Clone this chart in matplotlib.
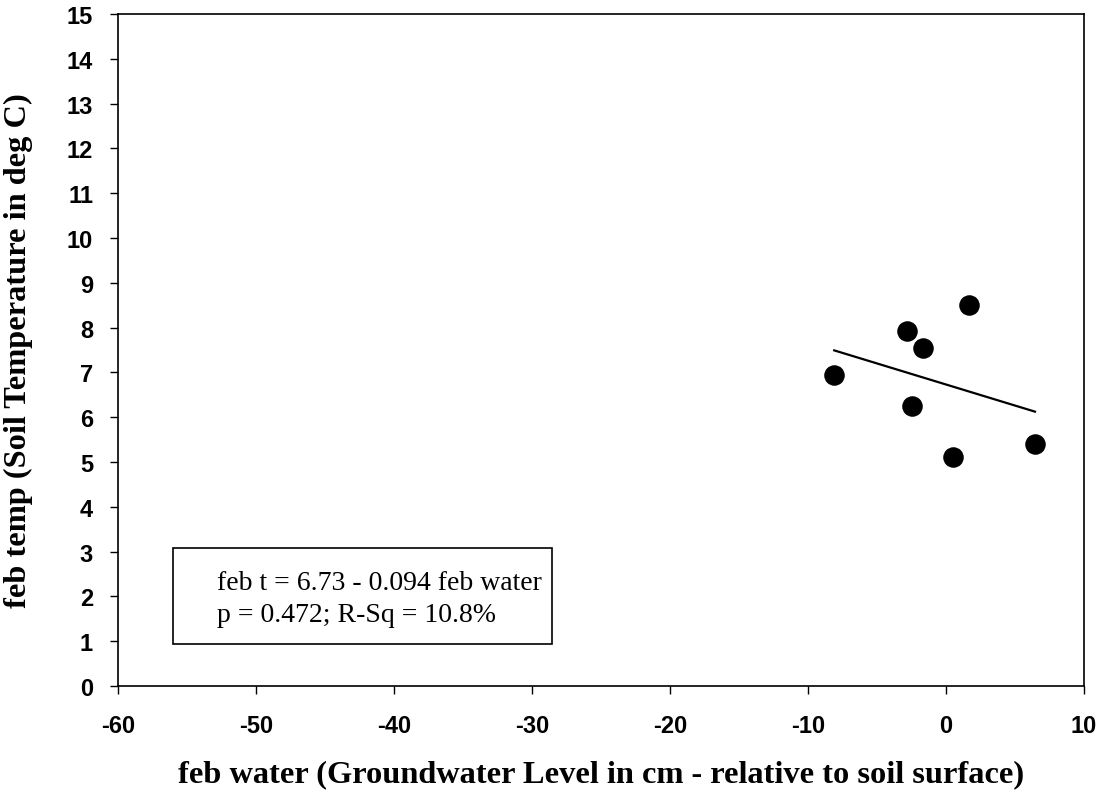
import numpy as np
import matplotlib
matplotlib.use("Agg")
import matplotlib.pyplot as plt
from matplotlib.patches import Rectangle

plt.rcParams["axes.unicode_minus"] = False

# February groundwater level (cm relative to soil surface) and soil temperature (deg C)
feb_water = [-8.1, -2.85, -1.7, 1.67, -2.44, 0.53, 6.45]
feb_temp = [6.94, 7.92, 7.54, 8.50, 6.26, 5.12, 5.40]

# fitted regression: feb t = 6.73 - 0.094 feb water
intercept = 6.73
slope = -0.094
fit_text = "feb t = 6.73 - 0.094 feb water\np = 0.472; R-Sq = 10.8%"

x_ticks = [-60, -50, -40, -30, -20, -10, 0, 10]
y_ticks = list(range(0, 16))

fig = plt.figure(figsize=(11.07, 8.03), dpi=100)
ax = fig.add_axes([0.1066, 0.1445, 0.8726, 0.8368])

ax.scatter(feb_water, feb_temp, s=190, color="black", zorder=3)

xf = np.array([min(feb_water), max(feb_water)])
ax.plot(xf, intercept + slope * xf, color="black", lw=1.6)

ax.set_xlim(-60, 10)
ax.set_ylim(0, 15)
ax.set_xticks(x_ticks)
ax.set_yticks(y_ticks)
ax.tick_params(direction="out", length=6, width=1, labelsize=17)
ax.tick_params(axis="x", pad=14)
ax.tick_params(axis="y", pad=12)
for lab in ax.get_xticklabels() + ax.get_yticklabels():
    lab.set_fontfamily("Liberation Sans")
    lab.set_fontweight("bold")
for sp in ax.spines.values():
    sp.set_linewidth(1.2)

ax.set_xlabel("feb water (Groundwater Level in cm - relative to soil surface)",
              fontfamily="Liberation Serif", fontweight="bold", fontsize=23.3, labelpad=16)
ax.set_ylabel("feb temp (Soil Temperature in deg C)",
              fontfamily="Liberation Serif", fontweight="bold", fontsize=23.3, labelpad=24)

# boxed regression summary
ax.add_patch(Rectangle((0.0569, 0.0625), 0.3923, 0.1429, transform=ax.transAxes,
                       facecolor="white", edgecolor="black", lw=1.2, zorder=4))
ax.text(0.1025, 0.130, fit_text, transform=ax.transAxes,
        fontfamily="Liberation Serif", fontsize=20, va="center", ha="left",
        linespacing=1.4, zorder=5)

fig.savefig("out.png", dpi=100)
